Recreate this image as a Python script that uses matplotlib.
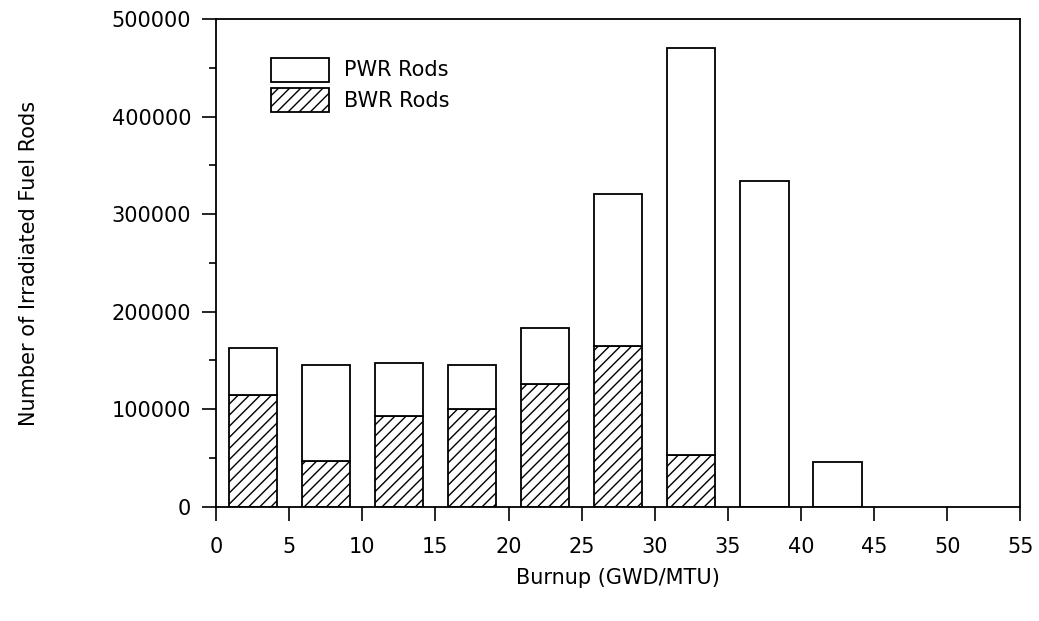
import matplotlib.pyplot as plt
import numpy as np
from matplotlib.ticker import MultipleLocator

plt.rcParams['hatch.linewidth'] = 1.0

# burnup bin centres (GWD/MTU) and rod counts
burnup = [2.5, 7.5, 12.5, 17.5, 22.5, 27.5, 32.5, 37.5, 42.5]
bwr = [115000, 47000, 93000, 100000, 126000, 165000, 53000, 0, 0]
total = [163000, 145000, 147000, 145000, 183000, 321000, 471000, 334000, 46000]
pwr = [t - b for t, b in zip(total, bwr)]

fig = plt.figure(figsize=(10.39, 6.21), dpi=100)
ax = fig.add_axes([0.208, 0.184, 0.774, 0.785])

ax.bar(burnup, bwr, width=3.3, color='white', edgecolor='black', hatch='///', linewidth=1.3, label='BWR Rods')
ax.bar(burnup, pwr, width=3.3, bottom=bwr, color='white', edgecolor='black', linewidth=1.3, label='PWR Rods')

ax.set_xlim(0, 55)
ax.set_ylim(0, 500000)
ax.xaxis.set_major_locator(MultipleLocator(5))
ax.yaxis.set_major_locator(MultipleLocator(100000))
ax.yaxis.set_minor_locator(MultipleLocator(50000))
ax.tick_params(axis='both', which='major', direction='out', length=10, width=1.2, labelsize=15)
ax.tick_params(axis='x', which='major', pad=12)
ax.tick_params(axis='y', which='major', pad=8)
ax.tick_params(axis='y', which='minor', direction='out', length=5, width=1.2)
for s in ax.spines.values():
    s.set_linewidth(1.3)

ax.set_xlabel('Burnup (GWD/MTU)', fontsize=15, labelpad=8)
ax.set_ylabel('Number of Irradiated Fuel Rods', fontsize=15, labelpad=52)

h, l = ax.get_legend_handles_labels()
ax.legend(h[::-1], l[::-1], loc='upper left', bbox_to_anchor=(0.045, 0.96), frameon=False,
          fontsize=15, handlelength=2.8, handleheight=1.4, handletextpad=0.7, labelspacing=0.3)

fig.savefig('out.png', dpi=100)
